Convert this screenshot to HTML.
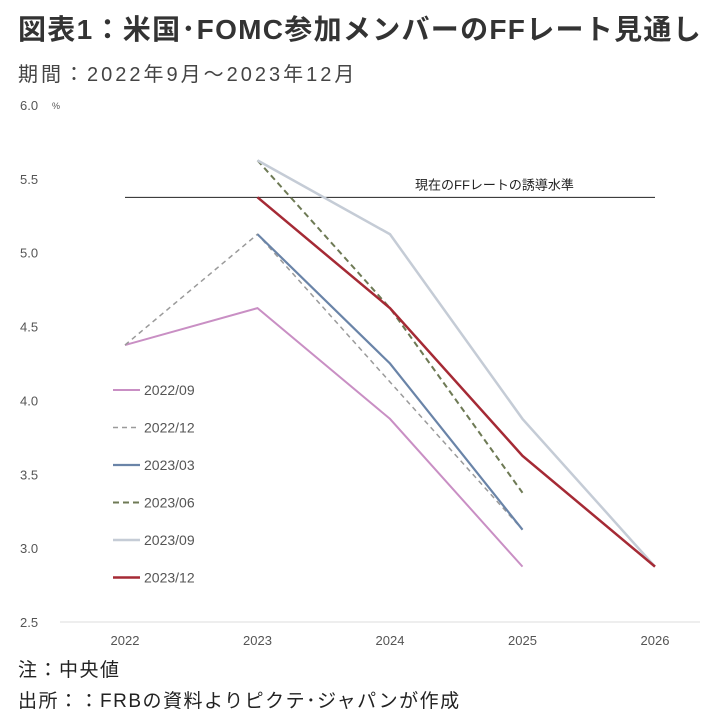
<!DOCTYPE html>
<html><head><meta charset="utf-8">
<style>
body{margin:0;background:#fff;width:716px;height:720px;overflow:hidden;font-family:"Liberation Sans","Noto Sans CJK JP",sans-serif;}
#title{position:absolute;left:18px;top:8px;font-size:28px;font-weight:bold;color:#333;letter-spacing:1.3px;white-space:nowrap;}
#sub{position:absolute;left:18px;top:58px;font-size:20px;color:#444;letter-spacing:3px;white-space:nowrap;}
.foot{position:absolute;left:18px;font-size:19px;color:#222;letter-spacing:1.5px;white-space:nowrap;}
svg{position:absolute;left:0;top:0;}
</style></head><body>
<div id="title">図表1：米国･FOMC参加メンバーのFFレート見通し</div>
<div id="sub">期間：2022年9月～2023年12月</div>
<svg id="chart" width="716" height="720"></svg>
<div class="foot" style="top:655px">注：中央値</div>
<div class="foot" style="top:686px">出所：：FRBの資料よりピクテ･ジャパンが作成</div>
<script>
const years=["2022","2023","2024","2025","2026"];
const yTicks=[6.0,5.5,5.0,4.5,4.0,3.5,3.0,2.5];
const refRate=5.375;
const s2209=[4.375,4.625,3.875,2.875,null];
const s2212=[4.375,5.125,4.125,3.125,null];
const s2303=[null,5.125,4.25,3.125,null];
const s2306=[null,5.625,4.625,3.375,null];
const s2309=[null,5.625,5.125,3.875,2.875];
const s2312=[null,5.375,4.625,3.625,2.875];
const seriesNames=["2022/09","2022/12","2023/03","2023/06","2023/09","2023/12"];
const seriesData=[s2209,s2212,s2303,s2306,s2309,s2312];
const styles=[{c:"#c98fc4",d:"",w:2},{c:"#9a9a9a",d:"5,4",w:1.5},{c:"#6a84a8",d:"",w:2.2},{c:"#6e7a55",d:"6,4",w:2},{c:"#c5ccd6",d:"",w:2.5},{c:"#a52a35",d:"",w:2.5}];
const NS="http://www.w3.org/2000/svg";
const svg=document.getElementById('chart');
const X=i=>125+i*132.5;
const Y=v=>105+(6.0-v)/0.5*73.86;
function mk(t,a){const e=document.createElementNS(NS,t);for(const k in a)e.setAttribute(k,a[k]);svg.appendChild(e);return e;}
yTicks.forEach(v=>{const t=mk('text',{x:20,y:Y(v)+5,'font-size':13,fill:'#555'});t.textContent=v.toFixed(1);

});
const pc=mk('text',{x:52,y:Y(6.0)+4,'font-size':9,fill:'#555'});pc.textContent='%';


years.forEach((y,i)=>{const t=mk('text',{x:X(i),y:645,'font-size':13,fill:'#555','text-anchor':'middle'});t.textContent=y;

});
const ax=mk('line',{x1:60,x2:700,y1:622,y2:622,stroke:'#ddd','stroke-width':1});


const ref=mk('line',{x1:X(0),x2:X(4),y1:Y(refRate),y2:Y(refRate),stroke:'#222','stroke-width':1});


const rl=mk('text',{x:415,y:Y(refRate)-8,'font-size':13,fill:'#222'});rl.textContent='現在のFFレートの誘導水準';


seriesData.forEach((d,si)=>{
 const pts=[];d.forEach((v,i)=>{if(v!==null)pts.push(X(i)+','+Y(v));});
 const p=mk('polyline',{points:pts.join(' '),fill:'none',stroke:styles[si].c,'stroke-width':styles[si].w,'stroke-dasharray':styles[si].d});
 
 
 const ly=390+si*37.5;
 const l=mk('line',{x1:113,x2:140,y1:ly,y2:ly,stroke:styles[si].c,'stroke-width':styles[si].w,'stroke-dasharray':styles[si].d});
 
 
 const t=mk('text',{x:144,y:ly+5,'font-size':14,fill:'#555'});t.textContent=seriesNames[si];
 
 
});
</script>
</body></html>
